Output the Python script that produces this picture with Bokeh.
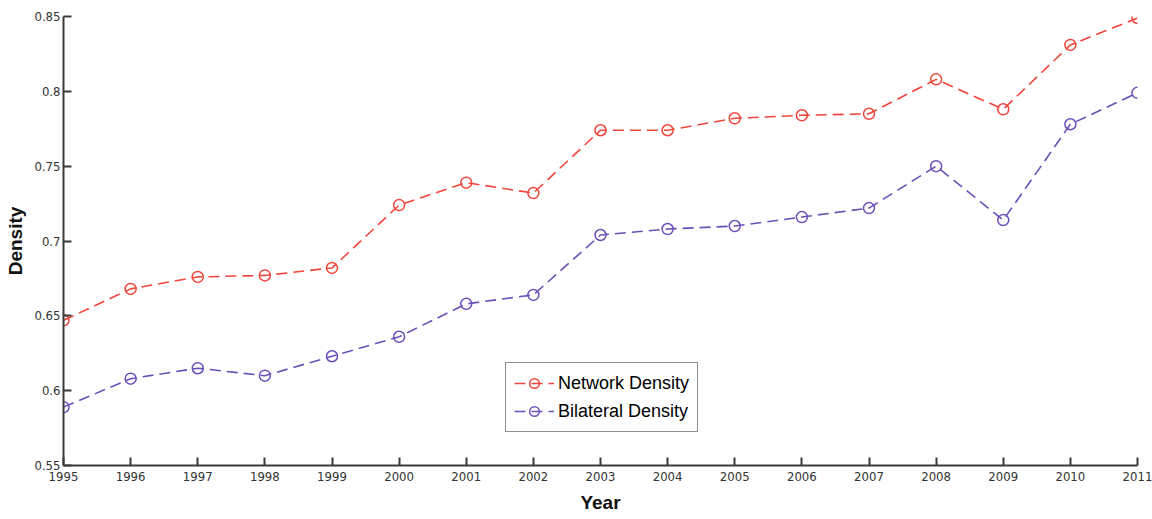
from bokeh.plotting import figure
from bokeh.models import ColumnDataSource, FixedTicker, Legend, LegendItem, Range1d
from bokeh.embed import file_html
from bokeh.resources import INLINE

years = list(range(1995, 2012))
network_density = [0.647, 0.668, 0.676, 0.677, 0.682, 0.724, 0.739, 0.732, 0.774,
                   0.774, 0.782, 0.784, 0.785, 0.808, 0.788, 0.831, 0.849]
bilateral_density = [0.589, 0.608, 0.615, 0.610, 0.623, 0.636, 0.658, 0.664, 0.704,
                     0.708, 0.710, 0.716, 0.722, 0.750, 0.714, 0.778, 0.799]
y_ticks = [0.55, 0.6, 0.65, 0.7, 0.75, 0.8, 0.85]
y_tick_labels = ["0.55", "0.6", "0.65", "0.7", "0.75", "0.8", "0.85"]

src = ColumnDataSource(dict(year=years, net=network_density, bil=bilateral_density))

TICK_FONT = "DejaVu Sans Condensed"
FONT = "Liberation Sans"
AXIS_COLOR = "#3a3a3a"
RED = "#f0453a"
PURPLE = "#6a50b8"

p = figure(width=1152, height=519, output_backend="svg", toolbar_location=None,
           x_range=Range1d(1995, 2011), y_range=Range1d(0.55, 0.85),
           min_border_left=63, min_border_right=15, min_border_top=16, min_border_bottom=54)
p.background_fill_color = "white"
p.border_fill_color = "white"
p.outline_line_color = None
p.xgrid.grid_line_color = None
p.ygrid.grid_line_color = None

r_net_line = p.line("year", "net", source=src, line_color=RED, line_width=1.6, line_dash="11 6")
r_net_pts = p.scatter("year", "net", source=src, marker="circle", size=11,
                      fill_color=None, line_color=RED, line_width=1.5)
r_bil_line = p.line("year", "bil", source=src, line_color=PURPLE, line_width=1.6, line_dash="11 6")
r_bil_pts = p.scatter("year", "bil", source=src, marker="circle", size=11,
                      fill_color=None, line_color=PURPLE, line_width=1.5)

for ax in (p.xaxis[0], p.yaxis[0]):
    ax.axis_line_color = AXIS_COLOR
    ax.axis_line_width = 2
    ax.major_tick_line_color = AXIS_COLOR
    ax.major_tick_line_width = 2
    ax.major_tick_in = 8
    ax.major_tick_out = 0
    ax.minor_tick_line_color = None
    ax.major_label_text_font = TICK_FONT
    ax.major_label_text_font_size = "13px"
    ax.major_label_text_color = "#333333"
    ax.axis_label_text_font = FONT
    ax.axis_label_text_font_style = "bold"
    ax.axis_label_text_font_size = "19px"
    ax.axis_label_text_color = "#111111"

p.xaxis.ticker = FixedTicker(ticks=years)
p.xaxis.major_label_standoff = 6
p.xaxis.axis_label = "Year"
p.xaxis.axis_label_standoff = 8

p.yaxis.ticker = FixedTicker(ticks=y_ticks)
p.yaxis.major_label_overrides = {t: s for t, s in zip(y_ticks, y_tick_labels)}
p.yaxis.major_label_standoff = 3
p.yaxis.axis_label = "Density"
p.yaxis.axis_label_standoff = 5

legend = Legend(items=[
    LegendItem(label="Network Density", renderers=[r_net_line, r_net_pts]),
    LegendItem(label="Bilateral Density", renderers=[r_bil_line, r_bil_pts]),
], location=(442, 33))
legend.border_line_color = "#222222"
legend.border_line_width = 1.5
legend.label_text_font = FONT
legend.label_text_font_size = "18px"
legend.label_text_color = "#000000"
legend.label_height = 24
legend.glyph_height = 24
legend.glyph_width = 40
legend.spacing = 4
legend.padding = 8
legend.margin = 0
legend.label_standoff = 4
p.add_layout(legend, "center")

open("out.html", "w").write(file_html(p, INLINE))
